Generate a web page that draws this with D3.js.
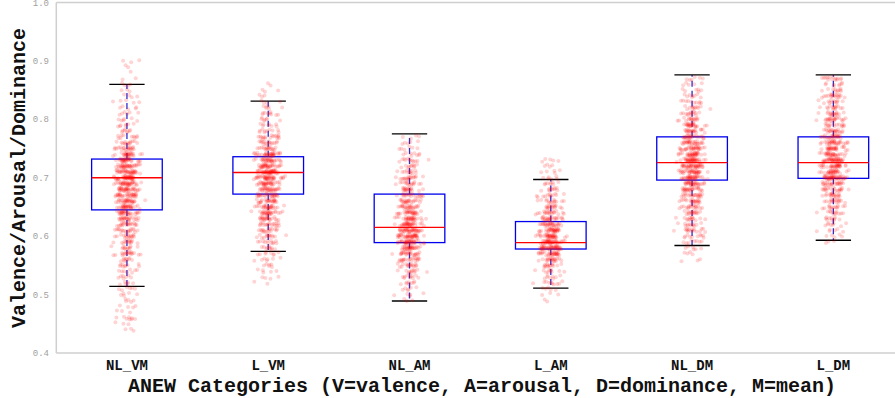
<!DOCTYPE html>
<html>
<head>
<meta charset="utf-8">
<script src="https://cdn.jsdelivr.net/npm/d3@7"></script>
<style>
  body { margin: 0; background: #fff; }
  svg { display: block; }
</style>
</head>
<body>
<svg id="chart"></svg>
<script>
// categories and box statistics
const categories = ["NL_VM", "L_VM", "NL_AM", "L_AM", "NL_DM", "L_DM"];
const whiskerLow  = [0.514, 0.574, 0.489, 0.511, 0.584, 0.593];
const q1          = [0.645, 0.672, 0.589, 0.578, 0.696, 0.699];
const medians     = [0.700, 0.709, 0.615, 0.589, 0.726, 0.726];
const q3          = [0.732, 0.736, 0.672, 0.625, 0.770, 0.770];
const whiskerHigh = [0.860, 0.831, 0.775, 0.697, 0.876, 0.876];
const yTicks = [0.4, 0.5, 0.6, 0.7, 0.8, 0.9, 1.0];

// scattered word scores, as [value, how many points]
const ptsNLVM = [[0.44,3],[0.45,3],[0.46,8],[0.47,3],[0.48,4],[0.49,5],[0.50,5],[0.51,6],[0.52,6],[0.53,7],
  [0.54,8],[0.55,9],[0.56,10],[0.57,18],[0.58,12],[0.59,14],[0.60,16],[0.61,18],[0.62,20],[0.63,24],
  [0.64,28],[0.65,30],[0.66,30],[0.67,32],[0.68,34],[0.69,36],[0.70,40],[0.71,36],[0.72,34],[0.73,30],
  [0.74,26],[0.75,20],[0.76,14],[0.77,10],[0.78,8],[0.79,7],[0.80,6],[0.81,6],[0.82,5],[0.83,5],
  [0.84,4],[0.85,3],[0.86,4],[0.87,2],[0.88,1],[0.89,2],[0.90,3]];
const ptsLVM = [[0.52,2],[0.53,4],[0.54,5],[0.55,6],[0.56,7],[0.57,8],[0.58,10],[0.59,12],[0.60,14],
  [0.61,16],[0.62,18],[0.63,22],[0.64,28],[0.65,26],[0.66,24],[0.67,26],[0.68,30],[0.69,32],[0.70,40],
  [0.71,42],[0.72,34],[0.73,30],[0.74,34],[0.75,18],[0.76,16],[0.77,16],[0.78,10],[0.79,8],[0.80,7],
  [0.81,9],[0.82,6],[0.83,4],[0.84,3],[0.85,3],[0.86,2]];
const ptsNLAM = [[0.49,3],[0.50,5],[0.51,6],[0.52,8],[0.53,10],[0.54,12],[0.55,16],[0.56,20],[0.57,24],
  [0.58,30],[0.59,38],[0.60,40],[0.61,38],[0.62,34],[0.63,30],[0.64,28],[0.65,24],[0.66,22],[0.67,20],
  [0.68,18],[0.69,16],[0.70,18],[0.71,12],[0.72,10],[0.73,12],[0.74,8],[0.75,6],[0.76,5],[0.77,4]];
const ptsLAM = [[0.49,2],[0.50,3],[0.51,5],[0.52,10],[0.53,8],[0.54,10],[0.55,14],[0.56,20],[0.57,30],
  [0.58,44],[0.59,40],[0.60,36],[0.61,32],[0.62,28],[0.63,24],[0.64,20],[0.65,16],[0.66,14],[0.67,12],
  [0.68,10],[0.69,8],[0.70,6],[0.71,5],[0.72,4],[0.73,5]];
const ptsNLDM = [[0.56,3],[0.57,4],[0.58,6],[0.59,8],[0.60,10],[0.61,16],[0.62,12],[0.63,14],[0.64,16],
  [0.65,18],[0.66,20],[0.67,22],[0.68,26],[0.69,30],[0.70,36],[0.71,34],[0.72,38],[0.73,40],[0.74,34],
  [0.75,30],[0.76,28],[0.77,24],[0.78,20],[0.79,24],[0.80,16],[0.81,14],[0.82,12],[0.83,10],[0.84,8],
  [0.85,6],[0.86,5],[0.87,6]];
const ptsLDM = [[0.59,3],[0.60,5],[0.61,6],[0.62,8],[0.63,10],[0.64,12],[0.65,14],[0.66,16],[0.67,18],
  [0.68,20],[0.69,24],[0.70,44],[0.71,30],[0.72,32],[0.73,40],[0.74,30],[0.75,28],[0.76,30],[0.77,24],
  [0.78,20],[0.79,16],[0.80,22],[0.81,16],[0.82,14],[0.83,12],[0.84,18],[0.85,10],[0.86,8],[0.87,14]];
const pointSets = [ptsNLVM, ptsLVM, ptsNLAM, ptsLAM, ptsNLDM, ptsLDM];

const width = 895, height = 398;
const svg = d3.select("#chart").attr("width", width).attr("height", height);

const x = d3.scaleLinear().domain([0.5, 6.5]).range([56.3, 904]);
const y = d3.scaleLinear().domain([0.4, 1.0]).range([353, 2.5]);
const mono = "'Liberation Mono', 'DejaVu Sans Mono', monospace";

// frame (right side falls outside the window, like the original)
const frame = svg.append("g").style("stroke", "#cfcfcf").style("stroke-width", 1.5);
frame.append("line").attr("x1", x(0.5)).attr("x2", x(0.5)).attr("y1", y(1.0)).attr("y2", y(0.4));
frame.append("line").attr("x1", x(0.5)).attr("x2", x(6.5)).attr("y1", y(1.0)).attr("y2", y(1.0));
frame.append("line").attr("x1", x(0.5)).attr("x2", x(6.5)).attr("y1", y(0.4)).attr("y2", y(0.4));

// y tick labels
svg.append("g").selectAll("text")
  .data(yTicks)
  .enter().append("text")
    .attr("x", 49)
    .attr("y", d => y(d))
    .attr("dy", "0.35em")
    .attr("text-anchor", "end")
    .style("font-family", mono)
    .style("font-size", "9px")
    .style("fill", "#a0a0a0")
    .text(d => d.toFixed(1));

// boxes
const boxW = 0.25, capW = 0.125;
const boxes = svg.append("g").selectAll("g")
  .data(categories)
  .enter().append("g");

boxes.append("rect")
  .attr("x", (d, i) => x(i + 1 - boxW))
  .attr("width", (d, i) => x(i + 1 + boxW) - x(i + 1 - boxW))
  .attr("y", (d, i) => y(q3[i]))
  .attr("height", (d, i) => y(q1[i]) - y(q3[i]))
  .style("fill", "none").style("stroke", "#0000ee").style("stroke-width", 1.3);

boxes.append("line")
  .attr("x1", (d, i) => x(i + 1)).attr("x2", (d, i) => x(i + 1))
  .attr("y1", (d, i) => y(q3[i])).attr("y2", (d, i) => y(whiskerHigh[i]))
  .style("stroke", "#3030cc").style("stroke-width", 1.3).style("stroke-dasharray", "6,4");
boxes.append("line")
  .attr("x1", (d, i) => x(i + 1)).attr("x2", (d, i) => x(i + 1))
  .attr("y1", (d, i) => y(q1[i])).attr("y2", (d, i) => y(whiskerLow[i]))
  .style("stroke", "#3030cc").style("stroke-width", 1.3).style("stroke-dasharray", "6,4");

[whiskerHigh, whiskerLow].forEach(arr => {
  boxes.append("line")
    .attr("x1", (d, i) => x(i + 1 - capW)).attr("x2", (d, i) => x(i + 1 + capW))
    .attr("y1", (d, i) => y(arr[i])).attr("y2", (d, i) => y(arr[i]))
    .style("stroke", "#000").style("stroke-width", 1.3);
});

boxes.append("line")
  .attr("x1", (d, i) => x(i + 1 - boxW)).attr("x2", (d, i) => x(i + 1 + boxW))
  .attr("y1", (d, i) => y(medians[i])).attr("y2", (d, i) => y(medians[i]))
  .style("stroke", "#ff0000").style("stroke-width", 1.3);

// jittered points (deterministic spread around each category position)
const frac = v => v - Math.floor(v);
let points = [];
let k = 0;
pointSets.forEach((set, ci) => {
  set.forEach(([v, n]) => {
    for (let j = 0; j < n; j++) {
      k++;
      const jx = (frac(k * 0.6180339887) + frac(k * 0.7548776662 + 0.3) +
                  frac(k * 0.5698402910 + 0.7) + frac(k * 0.8191725134 + 0.1) - 2) / 2;
      const jy = frac(k * 0.4142135624) - 0.5;
      points.push({ cat: ci + 1, value: v, jx: jx * 0.15, jy: jy * 3.5 });
    }
  });
});

svg.append("g").selectAll("circle")
  .data(points)
  .enter().append("circle")
    .attr("cx", d => x(d.cat + d.jx))
    .attr("cy", d => y(d.value) + d.jy)
    .attr("r", 2)
    .style("fill", "#ff0000")
    .style("fill-opacity", 0.17);

// category labels
svg.append("g").selectAll("text")
  .data(categories)
  .enter().append("text")
    .attr("x", (d, i) => x(i + 1))
    .attr("y", 370)
    .attr("text-anchor", "middle")
    .style("font-family", mono)
    .style("font-weight", "bold")
    .style("font-size", "14px")
    .style("fill", "#111")
    .text(d => d);

// axis titles
svg.append("text")
  .attr("x", 482)
  .attr("y", 392)
  .attr("text-anchor", "middle")
  .style("font-family", mono)
  .style("font-weight", "bold")
  .style("font-size", "20px")
  .style("fill", "#111")
  .text("ANEW Categories (V=valence, A=arousal, D=dominance, M=mean)");

svg.append("text")
  .attr("transform", "translate(25," + 178 + ") rotate(-90)")
  .attr("text-anchor", "middle")
  .style("font-family", mono)
  .style("font-weight", "bold")
  .style("font-size", "20px")
  .style("fill", "#111")
  .text("Valence/Arousal/Dominance");
</script>
</body>
</html>
